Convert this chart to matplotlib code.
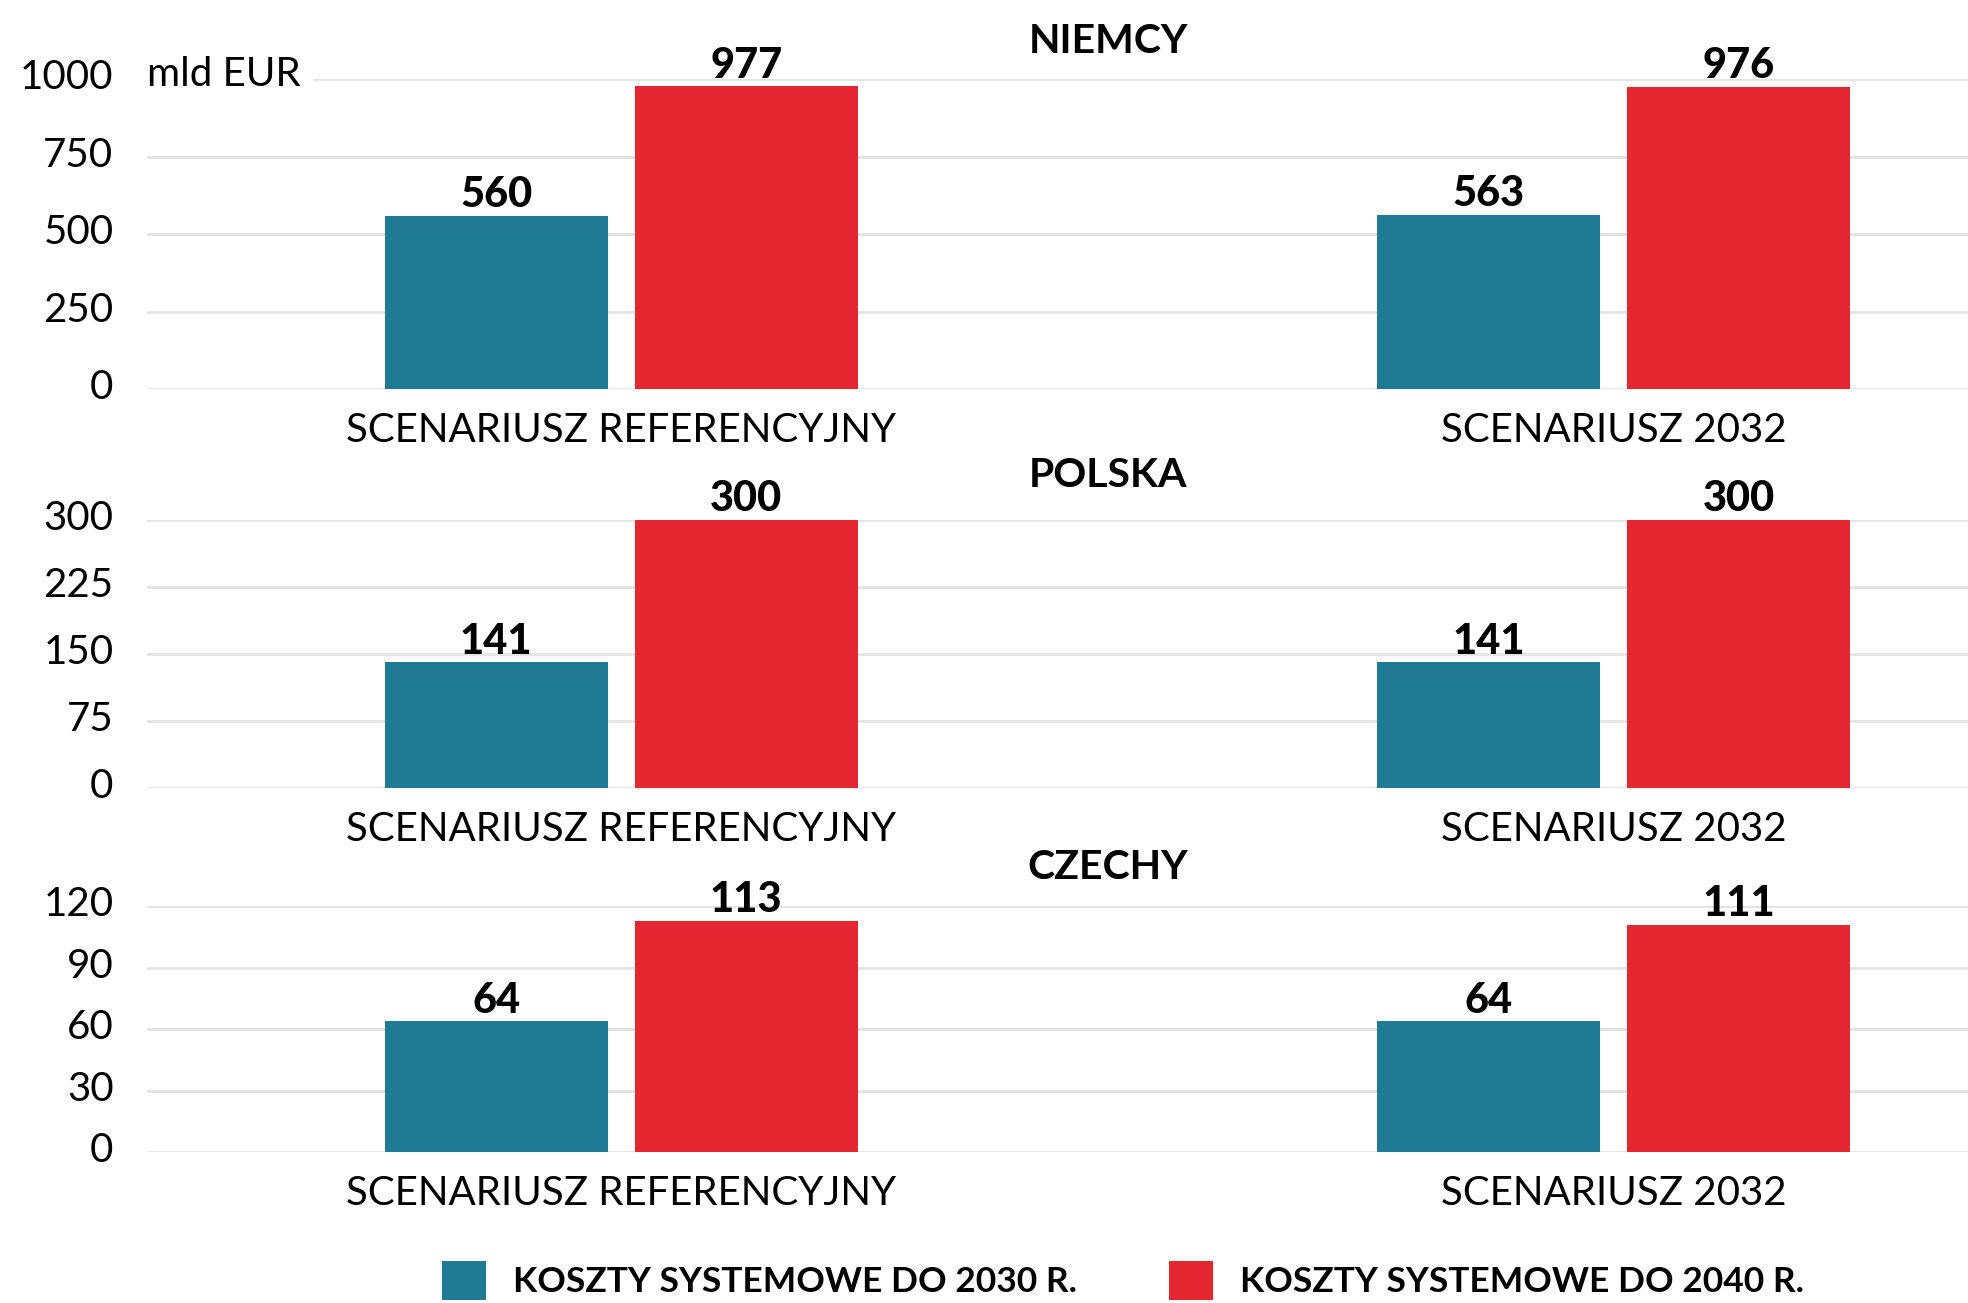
import matplotlib
matplotlib.use("Agg")
import matplotlib.pyplot as plt
import matplotlib.transforms as mtransforms
from matplotlib.patches import Patch

plt.rcParams["font.family"] = ["Lato", "DejaVu Sans"]

SCENARIOS = ["SCENARIUSZ REFERENCYJNY", "SCENARIUSZ 2032"]
SERIES = ["KOSZTY SYSTEMOWE DO 2030 R.", "KOSZTY SYSTEMOWE DO 2040 R."]
COLORS = ["#1F7A93", "#E52731"]

COUNTRIES = ["NIEMCY", "POLSKA", "CZECHY"]
COSTS_2030 = [[560, 563], [141, 141], [64, 64]]
COSTS_2040 = [[977, 976], [300, 300], [113, 111]]
Y_TICKS = [[0, 250, 500, 750, 1000], [0, 75, 150, 225, 300], [0, 30, 60, 90, 120]]

# axes boxes (left, bottom, width, height) in figure fraction
PANELS = [
    [0.0746, 0.7013, 0.9254, 0.2380],
    [0.0746, 0.3950, 0.9254, 0.2062],
    [0.0746, 0.1156, 0.9254, 0.1888],
]
TITLE_Y = [0.968, 0.635, 0.334]

BAR_W = 0.225
OFFSET = 0.126
FS = 29

fig = plt.figure(figsize=(19.68, 13.03), dpi=100)
lift = mtransforms.ScaledTranslation(0, 5 / 100, fig.dpi_scale_trans)

for i, country in enumerate(COUNTRIES):
    ax = fig.add_axes(PANELS[i])
    x = list(range(len(SCENARIOS)))
    for j, vals in enumerate([COSTS_2030[i], COSTS_2040[i]]):
        xs = [p + (2 * j - 1) * OFFSET for p in x]
        bars = ax.bar(xs, vals, width=BAR_W, color=COLORS[j], zorder=3)
        for b, v in zip(bars, vals):
            ax.annotate(str(v), (b.get_x() + b.get_width() / 2, v),
                        xytext=(0, 1), textcoords="offset points",
                        ha="center", va="bottom", fontsize=30,
                        fontweight="black", color="black", zorder=4)
    ticks = Y_TICKS[i]
    ax.set_ylim(0, ticks[-1])
    ax.set_yticks(ticks)
    ax.set_xlim(-0.478, 1.357)
    ax.set_xticks(x)
    ax.set_xticklabels(SCENARIOS, fontsize=FS)
    ax.tick_params(axis="both", length=0, labelsize=FS)
    ax.tick_params(axis="y", pad=24)
    ax.tick_params(axis="x", pad=16.5)
    for lab in ax.get_yticklabels():
        lab.set_transform(lab.get_transform() + lift)
    ax.yaxis.grid(True, color="#E3E3E3", linewidth=2, zorder=0)
    ax.set_axisbelow(True)
    for s in ax.spines.values():
        s.set_visible(False)
    fig.text(0.563, TITLE_Y[i], country, ha="center", va="center",
             fontsize=29.5, fontweight="bold")
    if i == 0:
        ax.text(0.0, ticks[-1], "mld EUR", transform=ax.get_yaxis_transform() + lift,
                ha="left", va="center", fontsize=FS, zorder=5,
                bbox=dict(facecolor="white", edgecolor="none", pad=10))

handles = [Patch(facecolor=c, edgecolor="none") for c in COLORS]
fig.legend(handles, SERIES, loc="center", bbox_to_anchor=(0.5705, 0.0173),
           ncol=2, frameon=False,
           prop={"weight": "bold", "size": 25.5},
           handlelength=1.25, handleheight=1.3, handletextpad=0.75,
           columnspacing=2.6)

fig.savefig("out.png", dpi=100)
